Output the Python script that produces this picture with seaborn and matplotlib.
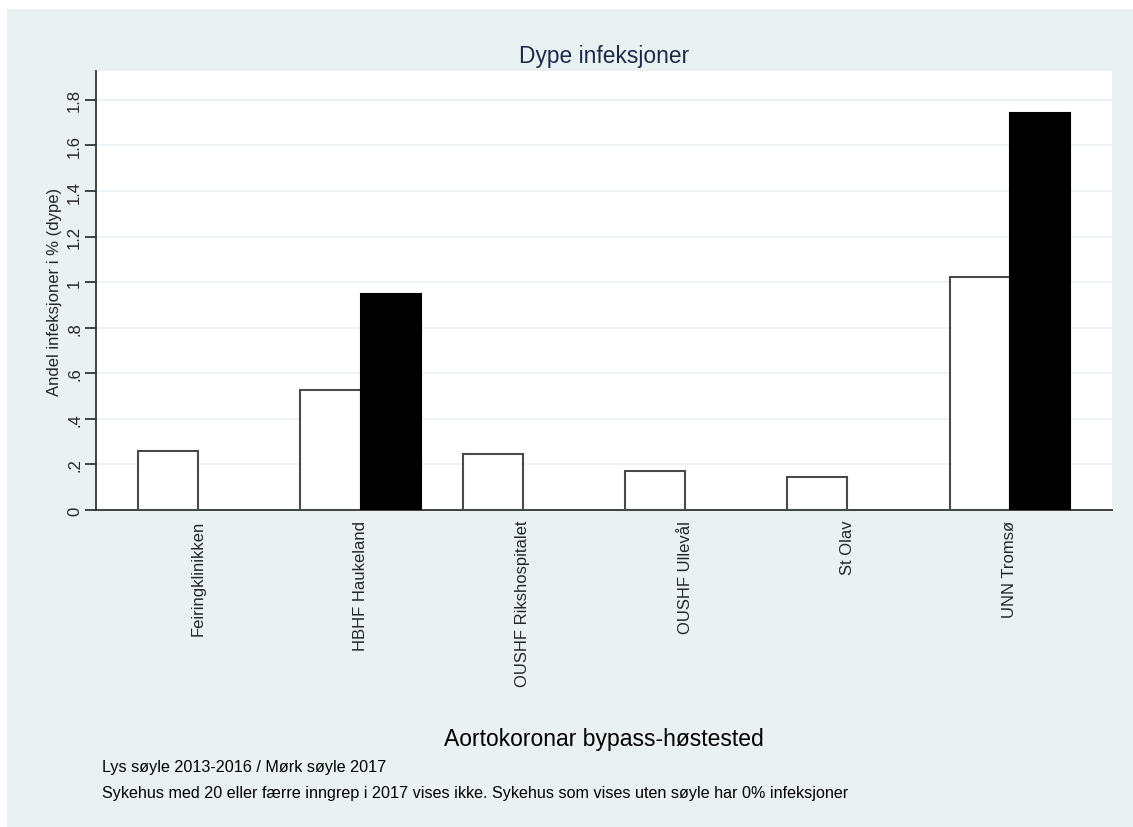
import matplotlib
matplotlib.use("Agg")
import matplotlib.pyplot as plt
import seaborn as sns
import pandas as pd
from matplotlib.patches import Rectangle

sykehus = ["Feiringklinikken", "HBHF Haukeland", "OUSHF Rikshospitalet",
           "OUSHF Ullevål", "St Olav", "UNN Tromsø"]
andel_2013_2016 = [0.26, 0.527, 0.245, 0.172, 0.146, 1.023]
andel_2017 = [0.0, 0.95, 0.0, 0.0, 0.0, 1.743]
perioder = ["2013-2016", "2017"]
yticks = [0, 0.2, 0.4, 0.6, 0.8, 1.0, 1.2, 1.4, 1.6, 1.8]
yticklabels = ["0", ".2", ".4", ".6", ".8", "1", "1.2", "1.4", "1.6", "1.8"]

df = pd.DataFrame({
    "sykehus": sykehus * 2,
    "andel": andel_2013_2016 + andel_2017,
    "periode": [perioder[0]] * len(sykehus) + [perioder[1]] * len(sykehus),
})

sns.set_style("white")
plt.rcParams["font.family"] = ["Liberation Sans", "DejaVu Sans"]

BG = "#e9f1f3"
fig = plt.figure(figsize=(11.33, 8.28), dpi=100, facecolor="white")
bg = Rectangle((7 / 1133, 0), 1 - 7 / 1133, (828 - 10) / 828,
               transform=fig.transFigure, facecolor=BG, edgecolor="none",
               zorder=-10)
fig.patches.append(bg)

ax = fig.add_axes([96 / 1133, 1 - 511 / 828, (1112 - 96) / 1133, (511 - 72) / 828])
ax.set_zorder(1)
ax.set_facecolor("white")

sns.barplot(data=df, x="sykehus", y="andel", hue="periode", order=sykehus,
            hue_order=perioder, palette=["white", "black"], width=0.74,
            legend=False, ax=ax, zorder=3)

n = len(sykehus)
for i, p in enumerate(ax.patches[: 2 * n]):
    p.set_edgecolor("#4a4a4a" if i < n else "black")
    p.set_linewidth(1.5 if p.get_height() > 0 else 0)

ax.set_xlim(-0.63, n - 1 + 0.63)
ax.set_ylim(0, 1.927)
ax.set_yticks(yticks)
ax.set_yticklabels(yticklabels, rotation=90, va="center", fontsize=12)
ax.yaxis.grid(True, color="#ebf1f3", linewidth=1.2, zorder=0)
ax.set_axisbelow(True)

ax.tick_params(axis="y", length=8, width=1.3, color="#333333", pad=2, left=True)
ax.tick_params(axis="x", length=0, pad=7)
ax.set_xticks(range(n))
ax.set_xticklabels(sykehus, rotation=90, ha="center", va="top", fontsize=12)

for s in ["top", "right"]:
    ax.spines[s].set_visible(False)
for s in ["left", "bottom"]:
    ax.spines[s].set_color("#333333")
    ax.spines[s].set_linewidth(1.3)

ax.set_xlabel("")
ax.set_ylabel("Andel infeksjoner i % (dype)", fontsize=12)
ax.yaxis.set_label_coords(-34 / 1016, 0.5)

fig.text(604 / 1133, 1 - 57 / 828, "Dype infeksjoner", ha="center", va="center",
         fontsize=16.4, color="#1c2a48")
fig.text(604 / 1133, 1 - 740 / 828, "Aortokoronar bypass-høstested", ha="center",
         va="center", fontsize=16.5, color="black")
fig.text(102 / 1133, 1 - 768 / 828, "Lys søyle 2013-2016 / Mørk søyle 2017",
         ha="left", va="center", fontsize=11.6, color="black")
fig.text(102 / 1133, 1 - 794 / 828,
         "Sykehus med 20 eller færre inngrep i 2017 vises ikke. Sykehus som vises uten søyle har 0% infeksjoner",
         ha="left", va="center", fontsize=11.6, color="black")

fig.savefig("out.png", dpi=100, facecolor="white")
